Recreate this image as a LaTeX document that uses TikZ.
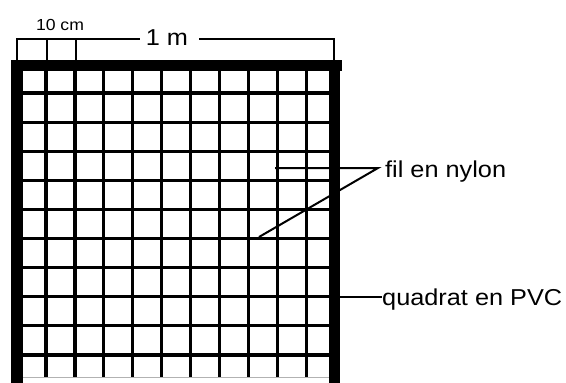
\documentclass[tikz,border=0pt]{standalone}
\usepackage{fontspec}
\setmainfont{Liberation Sans}[FakeStretch=1.1]
\begin{document}
\begin{tikzpicture}[x=1pt,y=-1pt,
    cavo/.style={line width=3.2pt},
    quota/.style={line width=2pt},
    etic/.style={inner sep=0pt,font=\fontsize{23}{23}\selectfont}]
        \useasboundingbox(0,0) rectangle(566,383);
        %griglia
        \foreach \i in {0,...,9}{
          \draw[cavo](46+28.9*\i,71)--++(0,306);
          \draw[cavo](23,93+29.1*\i)--++(306,0);
        }
        \draw[gray!60,line width=1pt](23,377)--(329,377);
        %telaio
        \fill(11,60) rectangle(23,383);
        \fill(11,60) rectangle(342,71);
        \fill(329,60) rectangle(340,383);
        %quota
        \node[etic] (cm) at (60,30) [anchor=base] {\fontsize{16}{16}\selectfont 10 cm};
        \node[etic] (metro) at (167,45) [anchor=base] {1 m};
        \coordinate (qA) at (17,60);
        \coordinate (qB) at (334,60);
        \coordinate (gapA) at (140,39);
        \coordinate (gapB) at (199,39);
        \draw[quota](qA)|-(gapA);
        \draw[quota](gapB)-|(qB);
        \draw[quota](47,39)--++(0,21) (76,39)--++(0,21);
        %etichette
        \node[etic] (nylon) at (385,177) [anchor=base west] {fil en nylon};
        \node[etic] (pvc) at (382,305) [anchor=base west] {quadrat en PVC};
        \coordinate (punta) at (378,168);
        \coordinate (filoA) at (275,168);
        \coordinate (filoB) at (259,237);
        \coordinate (telaio) at (340,297);
        \draw[quota](filoA)--(punta)--(filoB);
        \draw[quota](telaio)--(pvc.west|-telaio);
    \end{tikzpicture}
\end{document}
